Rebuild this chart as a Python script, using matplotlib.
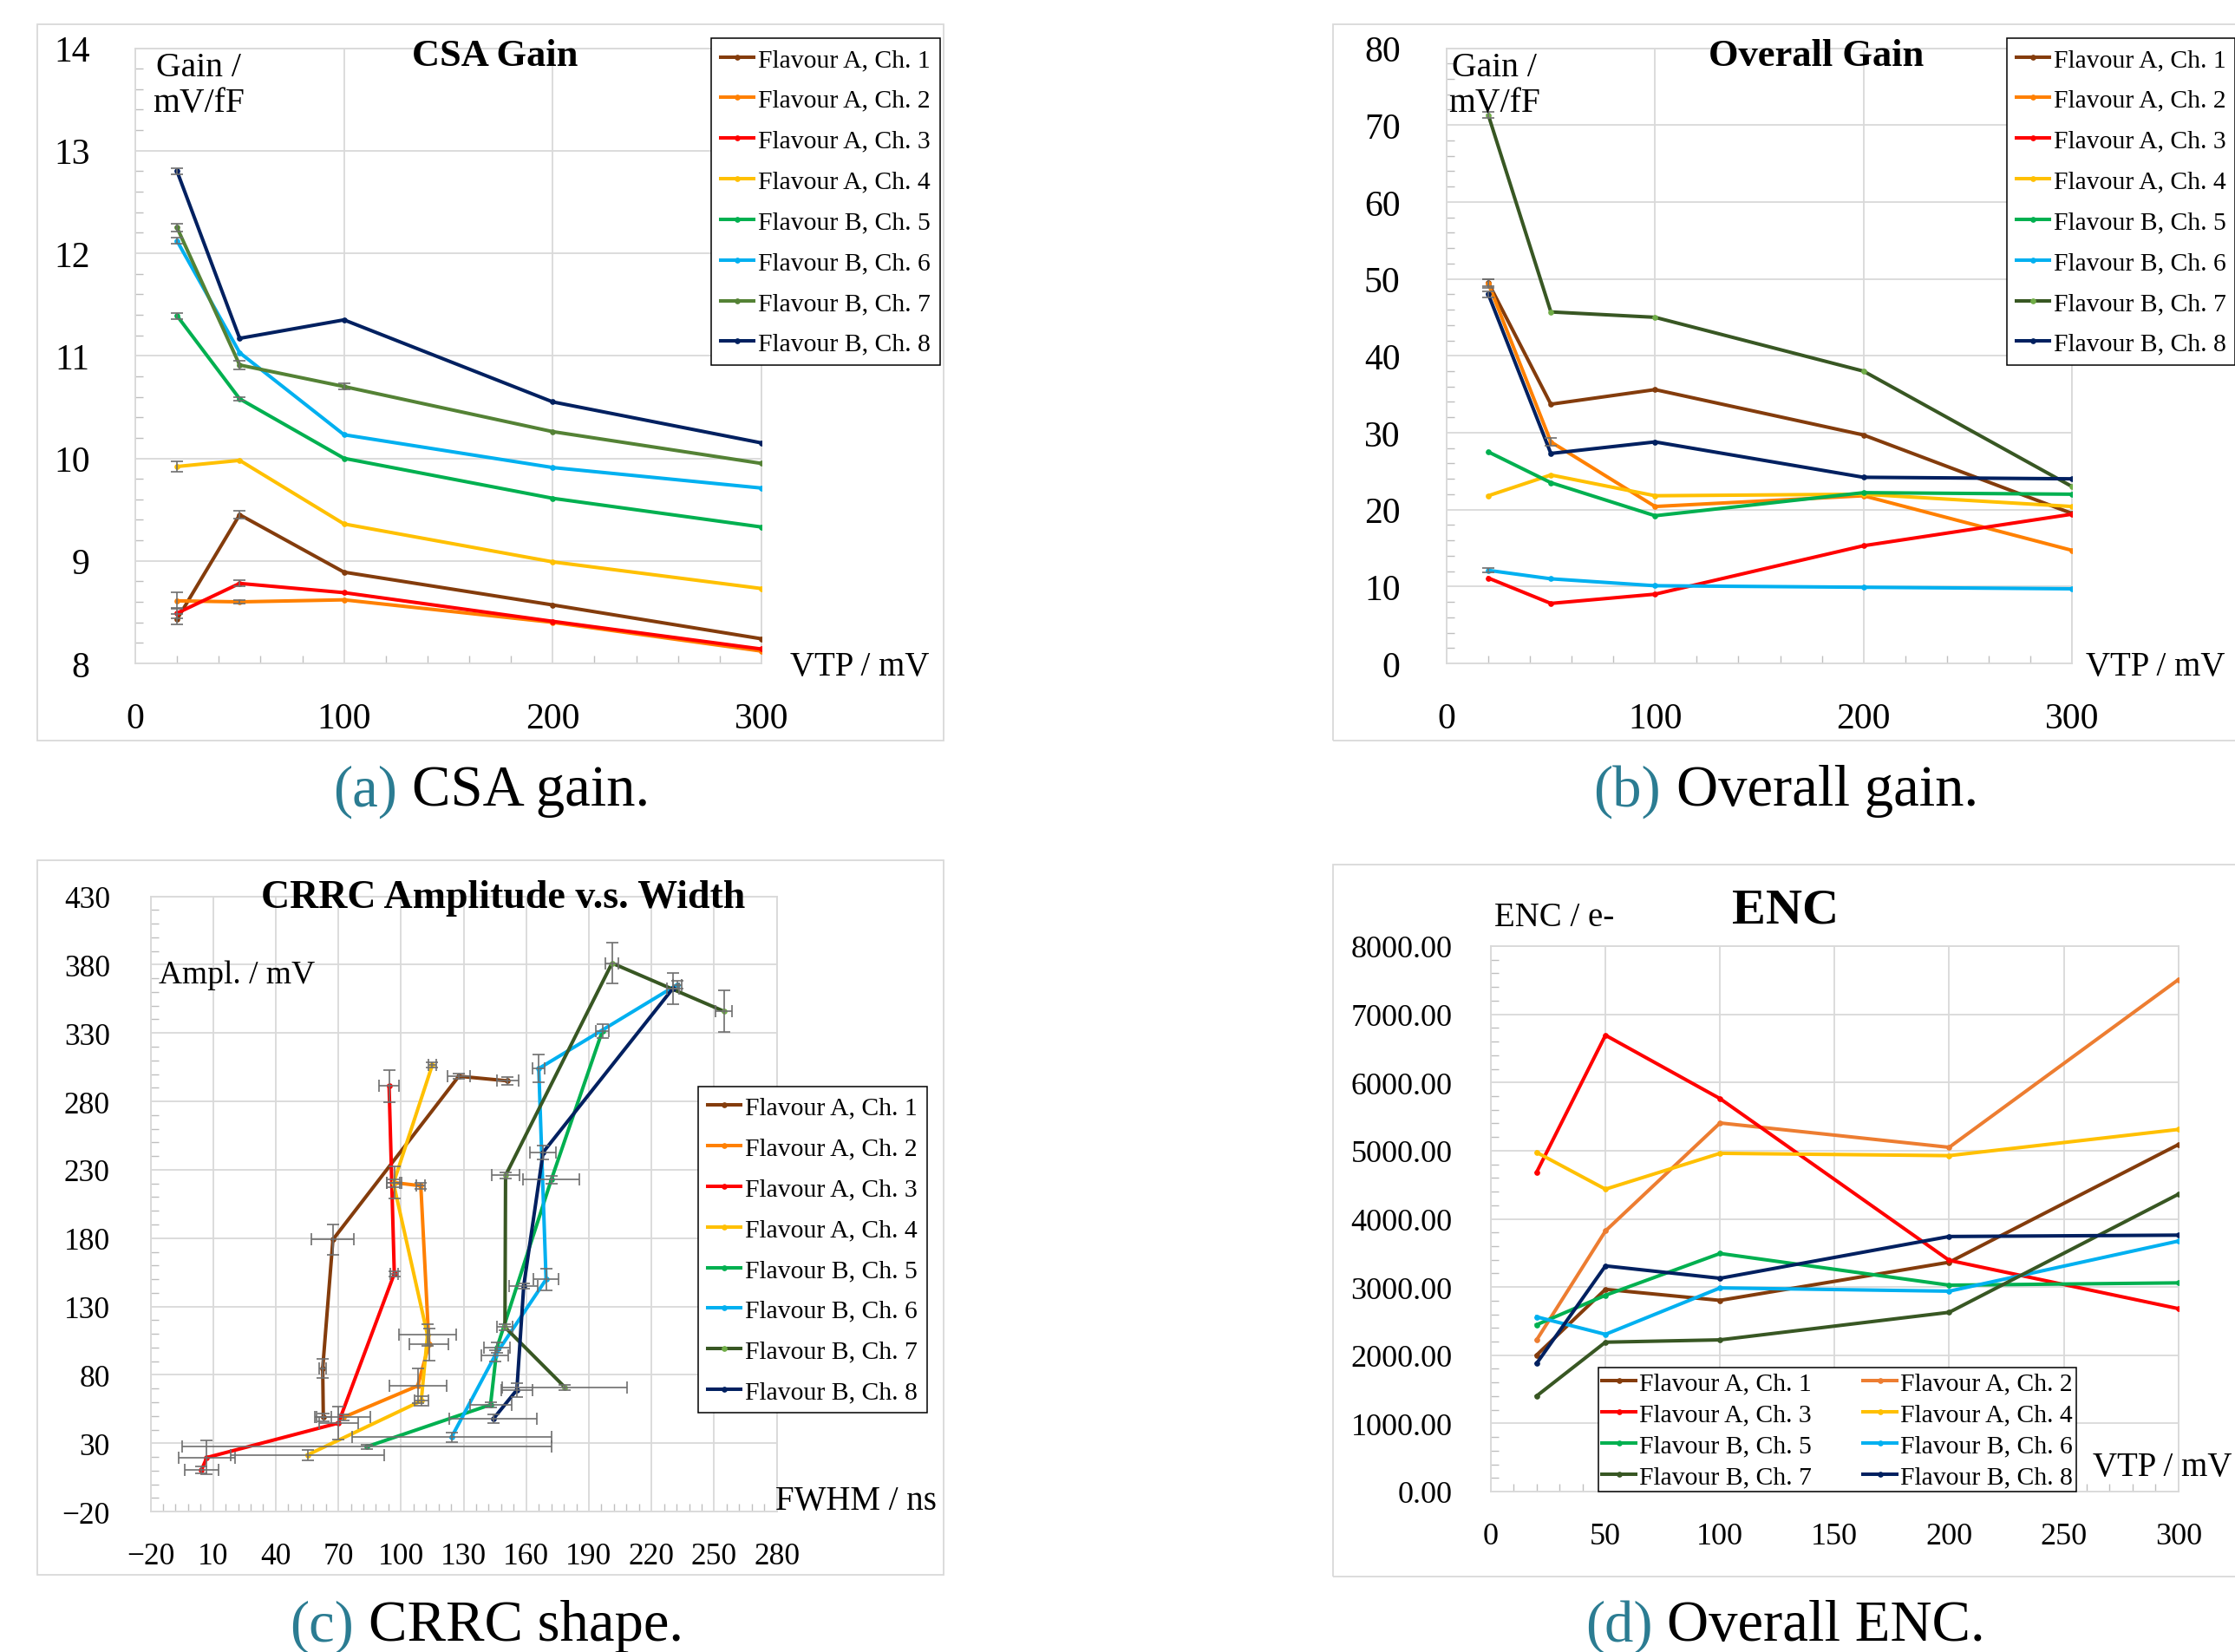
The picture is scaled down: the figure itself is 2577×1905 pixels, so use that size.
import numpy as np
import matplotlib
matplotlib.use("Agg")
import matplotlib.pyplot as plt
from matplotlib.patches import Rectangle
from matplotlib.ticker import MultipleLocator, FormatStrFormatter

plt.rcParams['font.family'] = ['Liberation Serif', 'DejaVu Serif']

# ---- data ----
labels = ["Flavour A, Ch. 1", "Flavour A, Ch. 2", "Flavour A, Ch. 3", "Flavour A, Ch. 4",
          "Flavour B, Ch. 5", "Flavour B, Ch. 6", "Flavour B, Ch. 7", "Flavour B, Ch. 8"]
vtp = [20, 50, 100, 200, 300]

# (a) CSA gain, mV/fF
csa_gain = [
    [8.43, 9.45, 8.89, 8.57, 8.24],
    [8.61, 8.60, 8.62, 8.40, 8.12],
    [8.49, 8.78, 8.69, 8.41, 8.14],
    [9.92, 9.98, 9.36, 8.99, 8.73],
    [11.39, 10.58, 10.00, 9.61, 9.33],
    [12.12, 11.03, 10.23, 9.91, 9.71],
    [12.25, 10.91, 10.70, 10.26, 9.95],
    [12.80, 11.17, 11.35, 10.55, 10.15],
]
csa_err = [
    [0.05, 0.04, 0, 0, 0],
    [0.08, 0.02, 0, 0, 0],
    [0.05, 0.03, 0, 0, 0],
    [0.05, 0, 0, 0, 0],
    [0.03, 0.02, 0, 0, 0],
    [0.03, 0, 0, 0, 0],
    [0.04, 0.04, 0.03, 0, 0],
    [0.03, 0, 0, 0, 0],
]

# (b) overall gain, mV/fF
overall_gain = [
    [49.5, 33.7, 35.6, 29.7, 19.5],
    [49.4, 28.8, 20.4, 21.8, 14.7],
    [11.1, 7.8, 9.0, 15.3, 19.4],
    [21.8, 24.5, 21.8, 22.0, 20.4],
    [27.5, 23.5, 19.2, 22.2, 22.0],
    [12.1, 11.0, 10.1, 9.9, 9.7],
    [71.3, 45.7, 45.0, 38.0, 23.0],
    [48.0, 27.3, 28.8, 24.2, 24.0],
]
overall_err = [
    [0.5, 0, 0, 0, 0],
    [0.6, 0.5, 0, 0, 0],
    [0, 0, 0, 0, 0],
    [0, 0, 0, 0, 0],
    [0, 0, 0, 0, 0],
    [0.3, 0, 0, 0, 0],
    [0.4, 0, 0, 0, 0],
    [0.4, 0, 0, 0, 0],
]

# (c) CRRC amplitude vs FWHM
crrc_fwhm = [
    [62.8, 62.5, 67.4, 127.7, 151.1],
    [72.4, 108.0, 113.4, 109.5, 96.8],
    [4.5, 7.0, 70.0, 96.8, 94.3],
    [55.2, 109.7, 112.7, 96.4, 115.0],
    [83.6, 142.9, 146.0, 172.0, 196.5],
    [124.2, 145.0, 169.5, 166.0, 232.3],
    [178.5, 149.8, 150.1, 201.1, 254.7],
    [144.2, 155.5, 158.8, 168.1, 230.2],
]
crrc_fwhm_err = [
    [4, 1.6, 10.2, 5.2, 5.3],
    [13, 13.7, 9.3, 2, 3.5],
    [8, 13.4, 9.3, 2, 4.8],
    [36.6, 3.3, 13.7, 3, 2],
    [88.6, 10, 6.4, 13.4, 3],
    [47.8, 6.4, 5.9, 2.8, 2],
    [30, 3.7, 6.5, 3, 4],
    [21, 7.5, 6.9, 6.2, 3],
]
crrc_ampl = [
    [49.0, 84.9, 179.0, 298.4, 295.0],
    [49.0, 72.0, 102.2, 218.3, 220.6],
    [10.7, 19.6, 44.8, 154.0, 291.2],
    [21.5, 61.0, 109.2, 220.2, 306.6],
    [27.5, 58.2, 100.0, 222.7, 331.6],
    [34.4, 94.0, 149.8, 304.0, 365.3],
    [71.0, 114.9, 225.9, 381.1, 345.9],
    [47.8, 69.0, 145.1, 242.8, 362.5],
]
crrc_ampl_err = [
    [3, 7, 11, 2, 3],
    [2, 12.7, 12, 2, 11.6],
    [2.4, 12.5, 12, 2, 11.5],
    [3.8, 3.7, 8, 3, 2],
    [1.5, 2, 4, 3, 5],
    [3.6, 4, 7.7, 10, 3],
    [2, 2, 2, 14.8, 15.3],
    [3.2, 5, 2, 5, 11.3],
]

# (d) ENC, e-
enc = [
    [2003, 2966, 2804, 3364, 5089],
    [2225, 3822, 5406, 5049, 7508],
    [4685, 6693, 5763, 3391, 2683],
    [4974, 4435, 4961, 4927, 5311],
    [2447, 2879, 3492, 3027, 3061],
    [2562, 2306, 2987, 2939, 3674],
    [1403, 2191, 2225, 2629, 4361],
    [1881, 3310, 3128, 3741, 3761],
]

colors = ['#843C0C', '#FF8000', '#FF0000', '#FFC000', '#00B050', '#00B0F0', '#385723', '#002060']
grid_c = '#D9D9D9'
err_c = '#6E6E6E'
teal = '#2B7C92'
LW = 2.9

W, H = 2577, 1906
fig = plt.figure(figsize=(W / 100, H / 100), dpi=100)


def fxy(x, y):
    return x / W, 1 - y / H


def box(x0, y0, x1, y1):
    fig.patches.append(Rectangle((x0 / W, 1 - y1 / H), (x1 - x0) / W, (y1 - y0) / H,
                                 transform=fig.transFigure, fill=False, ec=grid_c, lw=1.3))


def make_axes(l, t, r, b):
    return fig.add_axes([l / W, 1 - b / H, (r - l) / W, (b - t) / H])


def style(ax, fs, xpad, ypad):
    ax.grid(True, which='major', color=grid_c, lw=1.3)
    ax.set_axisbelow(True)
    for s in ax.spines.values():
        s.set_color(grid_c)
        s.set_linewidth(1.3)
    ax.tick_params(which='major', length=0, labelsize=fs)
    ax.tick_params(axis='x', which='major', pad=xpad)
    ax.tick_params(axis='y', which='major', pad=ypad)
    ax.tick_params(which='minor', direction='in', length=6.5, width=1, color='#BFBFBF')


def draw_errors(ax, x, y, xerr=None, yerr=None):
    x, y = np.asarray(x, float), np.asarray(y, float)
    if yerr is not None:
        yerr = np.asarray(yerr, float)
        m = yerr > 0
        if m.any():
            ax.errorbar(x[m], y[m], yerr=yerr[m], fmt='none', ecolor=err_c,
                        elinewidth=1.2, capsize=5, capthick=1.2, zorder=4)
    if xerr is not None:
        xerr = np.asarray(xerr, float)
        m = xerr > 0
        if m.any():
            ax.errorbar(x[m], y[m], xerr=xerr[m], fmt='none', ecolor=err_c,
                        elinewidth=1.2, capsize=5, capthick=1.2, zorder=4)


def legend(ax, handles, anchor, loc, ncol=1, labelspacing=0.68, borderpad=0.37,
           columnspacing=1.26, order=None):
    hs = handles if order is None else [handles[i] for i in order]
    lg = ax.legend(handles=hs, loc=loc, bbox_to_anchor=fxy(*anchor),
                   bbox_transform=fig.transFigure, ncol=ncol, fontsize=21.3,
                   handlelength=1.3, handletextpad=0.15, labelspacing=labelspacing,
                   borderpad=borderpad, borderaxespad=0, columnspacing=columnspacing,
                   fancybox=False, framealpha=1, edgecolor='black')
    lg.get_frame().set_linewidth(1.1)
    lg.set_zorder(10)
    return lg


def caption(xr, xl, y, tag, text):
    fig.text(*fxy(xr, y), tag, ha='right', va='center', color=teal, fontsize=48)
    fig.text(*fxy(xl, y), text, ha='left', va='center', fontsize=48)


# ---------------- (a) CSA gain ----------------
box(43, 29, 1088, 855)
ax = make_axes(156, 56.5, 878, 766)
ax.set_xlim(0, 300)
ax.set_ylim(8, 14)
ax.xaxis.set_major_locator(MultipleLocator(100))
ax.xaxis.set_minor_locator(MultipleLocator(20))
ax.yaxis.set_major_locator(MultipleLocator(1))
ax.yaxis.set_minor_locator(MultipleLocator(0.2))
style(ax, 30, 32, 37.7)
hs = []
for i in range(8):
    c = '#548235' if i == 6 else colors[i]
    h, = ax.plot(vtp, csa_gain[i], color=c, lw=LW, marker='o', ms=3.8, label=labels[i], zorder=3)
    draw_errors(ax, vtp, csa_gain[i], yerr=csa_err[i])
    hs.append(h)
legend(ax, hs, (820, 45.3), 'upper left')
fig.text(*fxy(571, 65), "CSA Gain", ha='center', va='center', fontsize=32, fontweight='bold')
fig.text(*fxy(229, 99), "Gain /\nmV/fF", ha='center', va='center', fontsize=28.5, linespacing=1.12)
fig.text(*fxy(910.6, 769), "VTP / mV", ha='left', va='center', fontsize=28)

# ---------------- (b) Overall gain ----------------
box(1537, 29, 2600, 855)
ax = make_axes(1668, 56.5, 2389, 766)
ax.set_xlim(0, 300)
ax.set_ylim(0, 80)
ax.xaxis.set_major_locator(MultipleLocator(100))
ax.xaxis.set_minor_locator(MultipleLocator(20))
ax.yaxis.set_major_locator(MultipleLocator(10))
ax.yaxis.set_minor_locator(MultipleLocator(2))
style(ax, 30, 32, 38.4)
hs = []
for i in range(8):
    mc = '#70AD47' if i == 6 else colors[i]
    h, = ax.plot(vtp, overall_gain[i], color=colors[i], lw=LW, marker='o', ms=3.8,
                 mfc=mc, mec=mc, label=labels[i], zorder=3)
    draw_errors(ax, vtp, overall_gain[i], yerr=overall_err[i])
    hs.append(h)
legend(ax, hs, (2313.7, 45.3), 'upper left')
fig.text(*fxy(2094.6, 65), "Overall Gain", ha='center', va='center', fontsize=32, fontweight='bold')
fig.text(*fxy(1723, 99), "Gain /\nmV/fF", ha='center', va='center', fontsize=28.5, linespacing=1.12)
fig.text(*fxy(2405, 769), "VTP / mV", ha='left', va='center', fontsize=28)

# ---------------- (c) CRRC shape ----------------
box(43, 993, 1088, 1817)
ax = make_axes(173.5, 1034.5, 895.6, 1744.2)
ax.set_xlim(-20, 280)
ax.set_ylim(-20, 430)
ax.set_xticks(np.arange(-20, 281, 30))
ax.set_xticks(np.arange(-20, 281, 6), minor=True)
ax.set_yticks(np.arange(-20, 431, 50))
ax.set_yticks(np.arange(-20, 431, 10), minor=True)
style(ax, 25.5, 25, 33.5)
hs = []
for i in range(8):
    mc = '#70AD47' if i == 6 else colors[i]
    h, = ax.plot(crrc_fwhm[i], crrc_ampl[i], color=colors[i], lw=LW, marker='o', ms=3.8,
                 mfc=mc, mec=mc, label=labels[i], zorder=3)
    draw_errors(ax, crrc_fwhm[i], crrc_ampl[i], xerr=crrc_fwhm_err[i], yerr=crrc_ampl_err[i])
    hs.append(h)
legend(ax, hs, (805, 1254), 'upper left')
fig.text(*fxy(580.5, 1036), "CRRC Amplitude v.s. Width", ha='center', va='center',
         fontsize=33, fontweight='bold')
fig.text(*fxy(182.7, 1125), "Ampl. / mV", ha='left', va='center', fontsize=27)
fig.text(*fxy(894.3, 1731.7), "FWHM / ns", ha='left', va='center', fontsize=28)

# ---------------- (d) ENC ----------------
box(1537, 998, 2600, 1819)
ax = make_axes(1719, 1092, 2511.7, 1721)
ax.set_xlim(0, 300)
ax.set_ylim(0, 8000)
ax.xaxis.set_major_locator(MultipleLocator(50))
ax.xaxis.set_minor_locator(MultipleLocator(10))
ax.yaxis.set_major_locator(MultipleLocator(1000))
ax.yaxis.set_minor_locator(MultipleLocator(200))
ax.yaxis.set_major_formatter(FormatStrFormatter('%.2f'))
style(ax, 26, 25.5, 32)
hs = []
for i in range(8):
    c = '#ED7D31' if i == 1 else colors[i]
    h, = ax.plot(vtp, enc[i], color=c, lw=LW, marker='o', ms=3.8, label=labels[i], zorder=3)
    hs.append(h)
legend(ax, hs, (2118.7, 1721.4), 'lower center', ncol=2, labelspacing=0.31,
       borderpad=0.15, columnspacing=2.0, order=[0, 2, 4, 6, 1, 3, 5, 7])
fig.text(*fxy(2058.8, 1050.7), "ENC", ha='center', va='center', fontsize=42, fontweight='bold')
fig.text(*fxy(1723, 1058.6), "ENC / e-", ha='left', va='center', fontsize=28)
fig.text(*fxy(2413.4, 1692.2), "VTP / mV", ha='left', va='center', fontsize=28)

# ---------------- captions ----------------
caption(458, 475, 913, "(a)", "CSA gain.")
caption(1915, 1933, 913, "(b)", "Overall gain.")
caption(408, 425, 1876, "(c)", "CRRC shape.")
caption(1906, 1922, 1876, "(d)", "Overall ENC.")

fig.savefig("out.png", dpi=100)
